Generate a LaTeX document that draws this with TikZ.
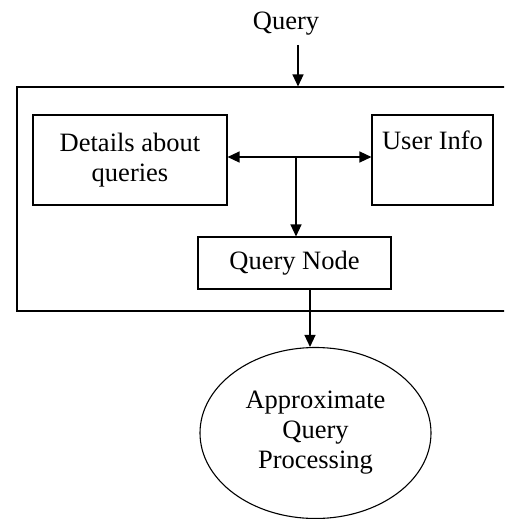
\documentclass[tikz,border=0pt]{standalone}
\usepackage{fontspec}
\setmainfont{Liberation Serif}
\usetikzlibrary{arrows.meta,shapes.geometric}
\begin{document}
\begin{tikzpicture}[x=1pt,y=-1pt,
  box/.style={draw,line width=1.1pt,rectangle,inner sep=0pt,align=center},
  conn/.style={line width=1.3pt,-{Triangle[length=12pt,width=11pt]}},
  dconn/.style={line width=1.3pt,{Triangle[length=12pt,width=11pt]}-{Triangle[length=12pt,width=11pt]}},
  every node/.style={font=\fontsize{26.5}{30}\selectfont}]
\useasboundingbox (0,0) rectangle (504,519);
\clip (0,0) rectangle (504,519);
\node (query) at (286,24) {Query};
\coordinate (qa) at (298,45);
\node[box,minimum width=489pt,minimum height=224pt] (outer) at (261.5,199) {};
\node[box,minimum width=194pt,minimum height=90pt] (details) at (130,160) {Details about\\queries};
\node[box,minimum width=121pt,minimum height=90pt] (user) at (432.5,160) {User Info\\\strut};
\node[box,minimum width=193pt,minimum height=52pt] (qnode) at (294.5,263) {Query Node};
\node[draw,ellipse,line width=1.1pt,minimum width=231pt,minimum height=171pt,inner sep=0pt,align=center] (apq) at (315.5,433) {Approximate\\Query\\Processing};
\coordinate (junc) at (296,157);
\draw[conn] (qa) -- (qa |- outer.north);
\draw[dconn] ([yshift=3pt]details.east) -- ([yshift=3pt]user.west);
\draw[conn] (junc) -- (junc |- qnode.north);
\draw[conn] ([xshift=15.5pt]qnode.south) -- ([xshift=15.5pt]qnode.south |- apq.north);
\end{tikzpicture}
\end{document}
